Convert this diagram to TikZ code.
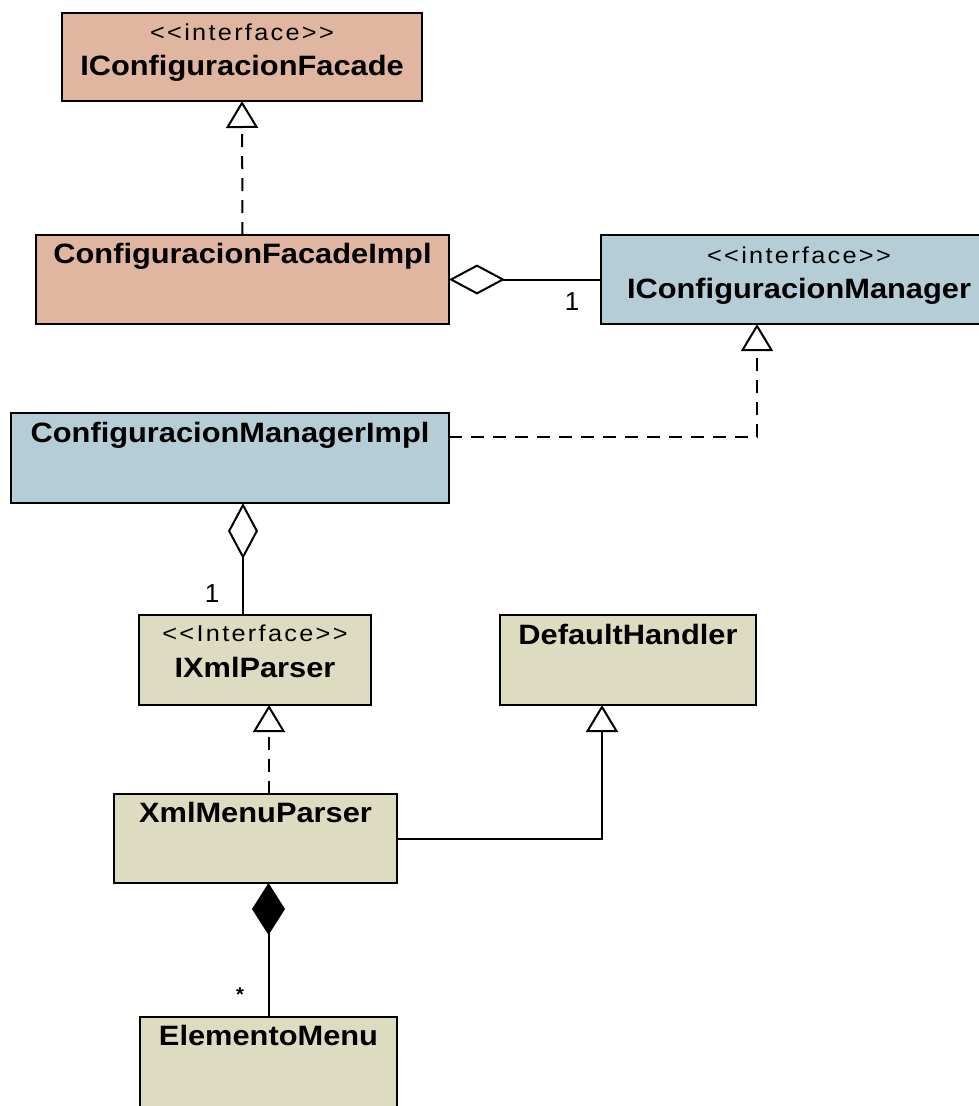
\documentclass[tikz,border=0pt]{standalone}
\usepackage{fontspec}
\setmainfont{Liberation Sans}
\newfontfamily\namefont{Liberation Sans}[FakeStretch=1.1]
\newfontfamily\stereofont{Liberation Sans}[FakeStretch=1.1,LetterSpace=10]
\usetikzlibrary{arrows.meta,calc}

\definecolor{facadefill}{RGB}{224,182,160}
\definecolor{managerfill}{RGB}{181,205,215}
\definecolor{parserfill}{RGB}{221,220,192}

\tikzset{
  classbox/.style={draw=black, line width=2pt, anchor=north west,
    inner sep=0pt, outer sep=0pt},
  classname/.style={anchor=base, inner sep=0pt, font=\namefont\bfseries\fontsize{28}{32}\selectfont},
  stereotype/.style={anchor=base, inner sep=0pt, font=\stereofont\fontsize{23}{27}\selectfont},
  mult/.style={inner sep=0pt, font=\fontsize{26}{30}\selectfont},
  conn/.style={line width=2pt, draw=black},
  realize/.style={conn, dash pattern=on 13pt off 9pt,
    -{Triangle[length=27pt,width=32pt,fill=white]}},
  inherit/.style={conn,
    -{Triangle[length=27pt,width=32pt,fill=white]}},
  aggreg/.style={conn,
    {Diamond[length=56pt,width=30pt,fill=white]}-},
  compos/.style={conn,
    {Diamond[length=52pt,width=33pt,fill=black]}-},
}

\begin{document}
\begin{tikzpicture}[x=1pt,y=-1pt]
\useasboundingbox (0,0) rectangle (979,1106);
\clip (0,0) rectangle (979,1106);
\fill[white] (0,0) rectangle (979,1106);

% class boxes
\node[classbox, fill=facadefill, minimum width=360pt, minimum height=88pt] (icf) at (62,13) {};
\node[classbox, fill=facadefill, minimum width=413pt, minimum height=89pt] (cfi) at (36,235) {};
\node[classbox, fill=managerfill, minimum width=396pt, minimum height=89pt] (icm) at (601,235) {};
\node[classbox, fill=managerfill, minimum width=438pt, minimum height=90pt] (cmi) at (11,413) {};
\node[classbox, fill=parserfill, minimum width=232pt, minimum height=90pt] (ixp) at (139,615) {};
\node[classbox, fill=parserfill, minimum width=256pt, minimum height=90pt] (dh) at (500,615) {};
\node[classbox, fill=parserfill, minimum width=283pt, minimum height=89pt] (xmp) at (114,794) {};
\node[classbox, fill=parserfill, minimum width=257pt, minimum height=110pt] (em) at (140,1017) {};

% class texts
\node[stereotype] (icf-st) at ($(icf.north)+(0,27)$) {<<interface>>};
\node[classname] (icf-nm) at ($(icf.north)+(0,62)$) {IConfiguracionFacade};
\node[classname] (cfi-nm) at ($(cfi.north)+(0,28)$) {ConfiguracionFacadeImpl};
\node[stereotype] (icm-st) at ($(icm.north)+(0,28)$) {<<interface>>};
\node[classname] (icm-nm) at ($(icm.north)+(0,63)$) {IConfiguracionManager};
\node[classname] (cmi-nm) at ($(cmi.north)+(0,29)$) {ConfiguracionManagerImpl};
\node[stereotype] (ixp-st) at ($(ixp.north)+(0,26)$) {<<Interface>>};
\node[classname] (ixp-nm) at ($(ixp.north)+(0,62)$) {IXmlParser};
\node[classname] (dh-nm) at ($(dh.north)+(0,29)$) {DefaultHandler};
\node[classname] (xmp-nm) at ($(xmp.north)+(0,28)$) {XmlMenuParser};
\node[classname] (em-nm) at ($(em.north)+(0,28)$) {ElementoMenu};

% realizations
\draw[realize] (cfi.north) -- (icf.south);
\draw[realize] ($(cmi.north east)+(0,24)$) -| ($(icm.south west)+(156,0)$);
\draw[realize] ($(xmp.north west)+(155,0)$) -- ($(ixp.south west)+(130,0)$);

% generalization
\draw[inherit] (xmp.east) -| ($(dh.south west)+(102,0)$);

% aggregations
\draw[aggreg] (cfi.east) -- (icm.west);
\draw[aggreg] ($(cmi.south west)+(232,0)$) -- ($(ixp.north west)+(104,0)$);

% composition
\draw[compos] (em.north |- xmp.south) -- (em.north);

% multiplicities
\node[mult] (m1) at (572,302) {1};
\node[mult] (m2) at (212,594) {1};
\node[inner sep=0pt, font=\bfseries\fontsize{20}{24}\selectfont] (m3) at (240,995) {*};
\end{tikzpicture}
\end{document}
